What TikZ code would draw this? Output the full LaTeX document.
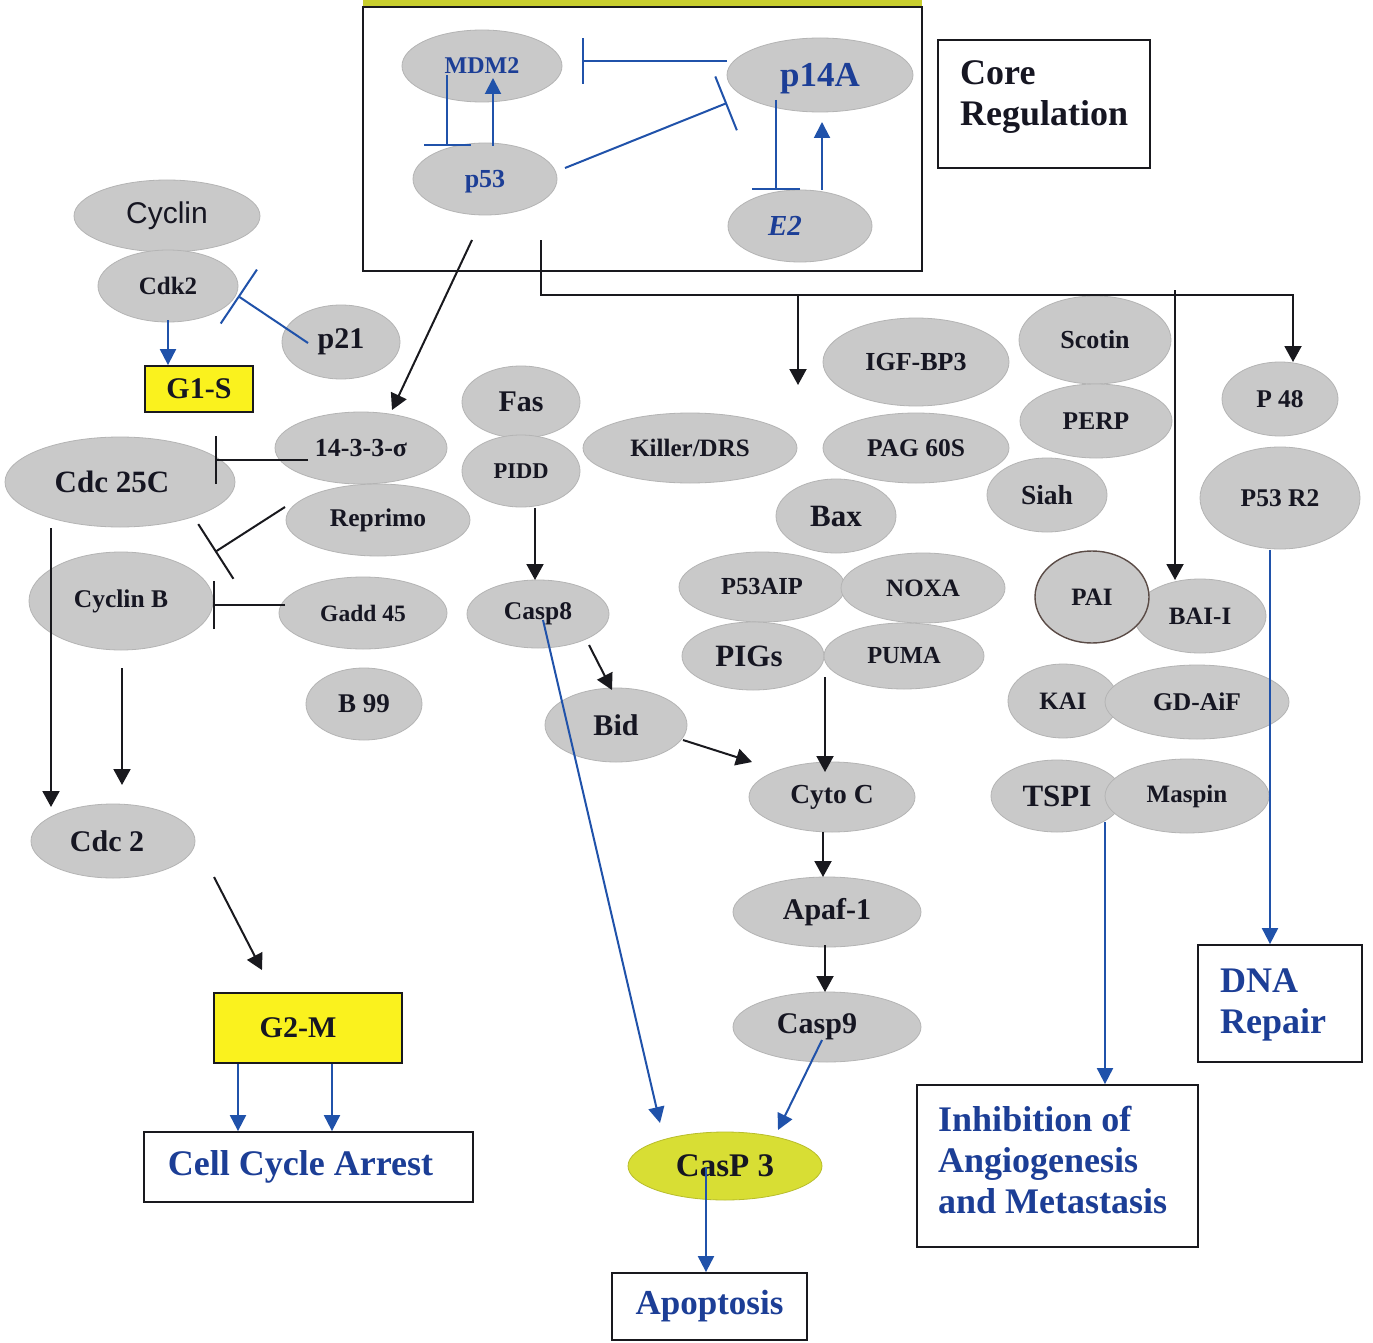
\documentclass[tikz,border=0pt]{standalone}
\usepackage{fontspec}
\setmainfont{Liberation Serif}
\newfontfamily\arialf{Liberation Sans}
\usetikzlibrary{shapes.geometric,arrows.meta,calc}
\definecolor{ellg}{RGB}{201,201,201}
\definecolor{elle}{RGB}{180,180,180}
\definecolor{txtb}{RGB}{22,22,34}
\definecolor{blt}{RGB}{28,62,150}
\definecolor{bll}{RGB}{32,82,170}
\definecolor{ylw}{RGB}{250,242,30}
\definecolor{ygreen}{RGB}{216,222,52}
\definecolor{olivebar}{RGB}{200,206,46}
\definecolor{linek}{RGB}{25,25,30}
\definecolor{paie}{RGB}{90,75,70}
\begin{document}
\begin{tikzpicture}[x=1pt,y=-1pt,
  ell/.style 2 args={ellipse,fill=ellg,draw=elle,line width=0.8pt,inner sep=0pt,
    minimum width=#1pt,minimum height=#2pt,text=txtb},
  fs/.style={font=\bfseries\fontsize{#1}{#1}\selectfont},
  bfs/.style={font=\bfseries\fontsize{#1}{#1}\selectfont,text=blt},
  boxk/.style 2 args={draw=linek,line width=1.8pt,inner sep=0pt,minimum width=#1pt,minimum height=#2pt},
  ka/.style={draw=linek,line width=2pt,-{Triangle[length=16pt,width=17pt]}},
  ba/.style={draw=bll,line width=2pt,-{Triangle[length=16pt,width=16pt]}},
  kl/.style={draw=linek,line width=2pt},
  kbar/.style={draw=linek,line width=2pt,-{Bar[width=#1pt]}},
  bbar/.style={draw=bll,line width=2pt,-{Bar[width=#1pt]}}]
\useasboundingbox (0,0) rectangle (1373,1343);
\fill[white] (0,0) rectangle (1373,1343);
% core region
\fill[olivebar] (363,0) rectangle (922,7);
\node[boxk={559}{264}] (core) at (642.5,139) {};
\node[boxk={212}{128}] (corereg) at (1044,104) {};
\node[fs=36,anchor=base west,inner sep=0pt,text=txtb] (cr1) at (960,85) {Core};
\node[fs=36,anchor=base west,inner sep=0pt,text=txtb] (cr2) at (960,126) {Regulation};
\node[ell={160}{72},bfs=24] (mdm2) at (482,66) {MDM2};
\node[ell={186}{74},bfs=35,text depth=0pt] (p14a) at (820,75) {p14A};
\node[ell={144}{72},bfs=26,text depth=0pt] (p53) at (485,179) {p53};
\node[ell={144}{72},font=\bfseries\itshape\fontsize{29}{29}\selectfont,text=blt] (e2) at (800,226) {\kern-30pt E2};
% left
\node[ell={186}{72},font=\arialf\fontsize{30}{30}\selectfont] (cyclin) at (167,216) {Cyclin};
\node[ell={140}{72},fs=25] (cdk2) at (168,286) {Cdk2};
\node[ell={118}{74},fs=30] (p21) at (341,342) {p21};
\node[boxk={108}{46},fill=ylw,fs=30,text=txtb] (g1s) at (199,389) {G1-S};
\node[ell={230}{90},fs=31] (cdc25c) at (120,482) {Cdc 25C\kern16pt};
\node[ell={172}{72},fs=26] (t1433) at (361,448) {14-3-3-σ};
\node[ell={184}{72},fs=25.5] (reprimo) at (378,520) {Reprimo};
\node[ell={184}{98},fs=25.5] (cyclinb) at (121,601) {Cyclin B};
\node[ell={168}{72},fs=23.5] (gadd45) at (363,613) {Gadd 45};
\node[ell={116}{72},fs=27] (b99) at (364,704) {B 99};
\node[ell={164}{74},fs=30] (cdc2) at (113,841) {Cdc 2\kern12pt};
\node[boxk={188}{70},fill=ylw,fs=30,text=txtb] (g2m) at (308,1028) {G2-M\kern20pt};
\node[boxk={329}{70},bfs=36] (cca) at (308.5,1167) {Cell Cycle Arrest\kern16pt};
% middle
\node[ell={118}{72},fs=30] (fas) at (521,402) {Fas};
\node[ell={118}{72},fs=22.5] (pidd) at (521,471) {PIDD};
\node[ell={214}{70},fs=25] (killer) at (690,448) {Killer/DRS};
\node[ell={142}{68},fs=25.5] (casp8) at (538,614) {Casp8};
\node[ell={142}{74},fs=30] (bid) at (616,725) {Bid};
\node[ell={186}{88},fs=26] (igfbp3) at (916,362) {IGF-BP3};
\node[ell={186}{70},fs=25.5] (pag60s) at (916,448) {PAG 60S};
\node[ell={120}{74},fs=31] (bax) at (836,516) {Bax};
\node[ell={166}{70},fs=24.5] (p53aip) at (762,587) {P53AIP};
\node[ell={164}{70},fs=25] (noxa) at (923,588) {NOXA};
\node[ell={142}{68},fs=31] (pigs) at (753,656) {\kern-8pt PIGs};
\node[ell={160}{66},fs=24.5] (puma) at (904,656) {PUMA};
\node[ell={166}{70},fs=27.5] (cytoc) at (832,797) {Cyto C};
\node[ell={188}{70},fs=30] (apaf1) at (827,912) {Apaf-1};
\node[ell={188}{70},fs=30] (casp9) at (827,1027) {Casp9\kern20pt};
\node[ell={194}{68},fs=33,fill=ygreen,draw=ygreen!85!black] (casp3) at (725,1166) {CasP 3};
\node[boxk={195}{67},bfs=35] (apop) at (709.5,1306.5) {Apoptosis};
% right
\node[ell={152}{88},fs=26] (scotin) at (1095,340) {Scotin};
\node[ell={152}{74},fs=25.5] (perp) at (1096,421) {PERP};
\node[ell={120}{74},fs=27.5] (siah) at (1047,495) {Siah};
\node[ell={116}{74},fs=25.5] (p48) at (1280,399) {P 48};
\node[ell={160}{102},fs=25.5] (p53r2) at (1280,498) {P53 R2};
\node[ell={132}{74},fs=25] (bai1) at (1200,616) {BAI-I};
\node[ell={114}{92},fs=25,draw=paie,line width=1.4pt] (pai) at (1092,597) {PAI};
\node[ell={110}{74},fs=25] (kai) at (1063,701) {KAI};
\node[ell={184}{74},fs=25.5] (gdaif) at (1197,702) {GD-AiF};
\node[ell={132}{72},fs=31] (tspi) at (1057,796) {TSPI};
\node[ell={164}{74},fs=25] (maspin) at (1187,796) {Maspin};
\node[boxk={281}{162}] (inh) at (1057.5,1166) {};
\node[bfs=36,anchor=base west,inner sep=0pt] (inh1) at (938,1131) {Inhibition of};
\node[bfs=36,anchor=base west,inner sep=0pt] (inh2) at (938,1172) {Angiogenesis};
\node[bfs=36,anchor=base west,inner sep=0pt] (inh3) at (938,1213) {and Metastasis};
\node[boxk={164}{117}] (dna) at (1280,1003.5) {};
\node[bfs=36,anchor=base west,inner sep=0pt] (dna1) at (1220,992) {DNA};
\node[bfs=36,anchor=base west,inner sep=0pt] (dna2) at (1220,1033) {Repair};
% coordinates for free ends
\coordinate (tj) at (541,295);
\coordinate (apopin) at (798,385);
% core connectors
\draw[bbar=47] ($(mdm2)+(-35,9)$) -- ($(p53)+(-38,-33)$);
\draw[ba] ($(p53)+(8,-33)$) -- ($(mdm2)+(11,12)$);
\draw[bbar=46] ($(p14a)+(-93,-14)$) -- ($(mdm2)+(100,-5)$);
\draw[bbar=58] ($(p53)+(80,-11)$) -- ($(p14a)+(-93,28)$);
\draw[bbar=48] ($(p14a)+(-44,25)$) -- ($(e2)+(-24,-36)$);
\draw[ba] ($(e2)+(22,-36)$) -- ($(p14a)+(2,47)$);
\draw[ka] ($(p53)+(-13,61)$) -- ($(t1433)+(31,-38)$);
\draw[ka] ($(p53)+(56,61)$) -- (tj) -| ($(p48)+(13,-37)$);
\draw[ka] ($(tj)+(257,0)$) -- (apopin);
\draw[ka] ($(tj)+(634,-5)$) -- ($(bai1)+(-25,-36)$);
% left connectors
\draw[bbar=65] ($(p21)+(-33,1)$) -- ($(cdk2)+(70,10)$);
\draw[ba] ($(cdk2)+(0,34)$) -- ($(g1s.north)+(-31,0)$);
\draw[kbar=48] ($(t1433)+(-53,12)$) -- ($(cdc25c)+(95,-22)$);
\draw[kbar=65] ($(reprimo)+(-93,-13)$) -- ($(cyclinb)+(94,-49)$);
\draw[kbar=48] ($(gadd45)+(-78,-8)$) -- ($(cyclinb)+(92,4)$);
\draw[ka] ($(cdc25c)+(-69,46)$) -- ($(cdc2)+(-62,-34)$);
\draw[ka] ($(cyclinb)+(1,67)$) -- ($(cdc2)+(9,-56)$);
\draw[ka] ($(cdc2)+(101,36)$) -- ($(g2m.north)+(-46,-22)$);
\draw[ba] ($(g2m.south)+(-70,0)$) -- ($(cca.north)+(-70.5,0)$);
\draw[ba] ($(g2m.south)+(24,0)$) -- ($(cca.north)+(23.5,0)$);
% middle connectors
\draw[ka] ($(pidd)+(14,37)$) -- ($(casp8)+(-3,-34)$);
\draw[ka] ($(casp8)+(51,31)$) -- ($(bid)+(-4,-35)$);
\draw[ka] ($(bid)+(67,15)$) -- ($(cytoc)+(-80,-35)$);
\draw[ba] ($(casp8)+(5,6)$) -- ($(casp3)+(-65,-43)$);
\draw[ka] ($(puma)+(-79,21)$) -- ($(cytoc)+(-7,-25)$);
\draw[ka] ($(cytoc)+(-9,35)$) -- ($(apaf1)+(-4,-35)$);
\draw[ka] ($(apaf1)+(-2,33)$) -- ($(casp9)+(-2,-35)$);
\draw[ba] ($(casp9)+(-5,13)$) -- ($(casp3)+(53,-36)$);
\draw[ba] ($(casp3)+(-19,1)$) -- ($(apop.north)+(-3.5,0)$);
% right connectors
\draw[ba] ($(tspi)+(48,26)$) -- ($(inh.north)+(47.5,0)$);
\draw[ba] ($(p53r2)+(-10,52)$) -- ($(dna.north)+(-10,0)$);
\end{tikzpicture}
\end{document}
